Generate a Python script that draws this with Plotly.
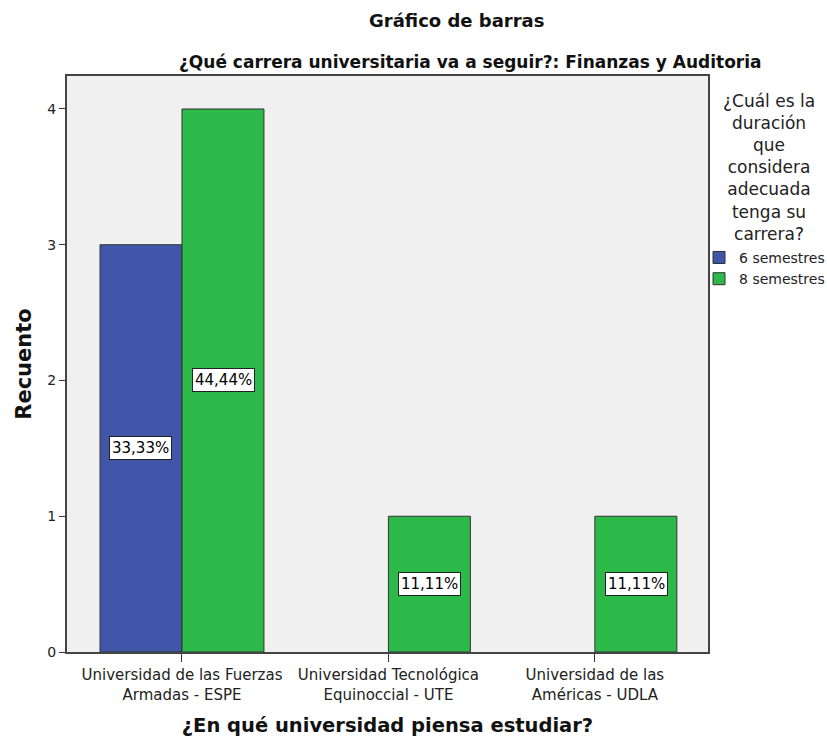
import plotly.graph_objects as go

categories = ["Universidad de las Fuerzas<br>Armadas - ESPE",
              "Universidad Tecnológica<br>Equinoccial - UTE",
              "Universidad de las<br>Américas - UDLA"]
series_names = ["6 semestres", "8 semestres"]
counts_6 = [3, None, None]
counts_8 = [4, 1, 1]
pct_6 = ["33,33%", None, None]
pct_8 = ["44,44%", "11,11%", "11,11%"]
y_ticks = [0, 1, 2, 3, 4]

colors = ["#3F56A9", "#2DB84A"]
xpos = list(range(len(categories)))
font = "DejaVu Sans, Verdana, sans-serif"

fig = go.Figure()
for name, vals, col in zip(series_names, [counts_6, counts_8], colors):
    fig.add_trace(go.Bar(x=xpos, y=vals, name=name, marker=dict(color=col, line=dict(color="#333333", width=1))))

annotations = []
offsets = [-0.2, 0.2]
for off, vals, pcts in zip(offsets, [counts_6, counts_8], [pct_6, pct_8]):
    for i, (v, p) in enumerate(zip(vals, pcts)):
        if v is None:
            continue
        annotations.append(dict(x=i + off, y=v / 2, xref="x", yref="y", text=p, showarrow=False,
                                font=dict(family=font, size=15, color="black"),
                                bgcolor="white", bordercolor="#222222", borderwidth=1, borderpad=2))

annotations += [
    dict(x=0.608, y=1.097, xref="paper", yref="paper", text="<b>Gráfico de barras</b>", showarrow=False,
         font=dict(family=font, size=18, color="#111111"), xanchor="center", yanchor="middle"),
    dict(x=0.629, y=1.024, xref="paper", yref="paper", text="<b>¿Qué carrera universitaria va a seguir?: Finanzas y Auditoria</b>",
         showarrow=False, font=dict(family=font, size=17, color="#111111"), xanchor="center", yanchor="middle"),
    dict(x=1.095, y=0.842, xref="paper", yref="paper",
         text="¿Cuál es la<br>duración<br>que<br>considera<br>adecuada<br>tenga su<br>carrera?",
         showarrow=False, align="center", font=dict(family=font, size=17, color="#222222"),
         xanchor="center", yanchor="middle"),
]

fig.update_layout(
    width=827, height=738,
    margin=dict(l=67, r=119, t=76, b=86, autoexpand=False),
    paper_bgcolor="white", plot_bgcolor="#F0F0F0",
    barmode="group", bargap=0.206, bargroupgap=0,
    showlegend=True,
    legend=dict(x=0.986, y=0.712, xanchor="left", yanchor="top", font=dict(family=font, size=14, color="#222222"),
                bgcolor="rgba(0,0,0,0)", tracegroupgap=0, itemwidth=30),
    annotations=annotations,
    font=dict(family=font),
)
fig.update_xaxes(range=[-0.557, 2.548], tickvals=xpos, ticktext=categories, ticks="outside", ticklen=8,
                 tickcolor="#333333", showline=True, linecolor="#444444", linewidth=2, mirror=True,
                 showgrid=False, zeroline=False, tickfont=dict(family=font, size=15, color="#222222"),
                 automargin=False,
                 title=dict(text="<b>¿En qué universidad piensa estudiar?</b>", font=dict(family=font, size=19.5, color="#111111"), standoff=16))
fig.update_yaxes(range=[0, 4.243], tickvals=y_ticks, ticks="outside", ticklen=6, tickcolor="#333333",
                 showline=True, linecolor="#444444", linewidth=2, mirror=True, showgrid=False, zeroline=False,
                 tickfont=dict(family=font, size=14, color="#222222"), automargin=False,
                 title=dict(text="<b>Recuento</b>", font=dict(family=font, size=21, color="#111111"), standoff=10))

fig.write_html("out.html", config={"displayModeBar": False}, post_script="document.body.style.margin='0';")
